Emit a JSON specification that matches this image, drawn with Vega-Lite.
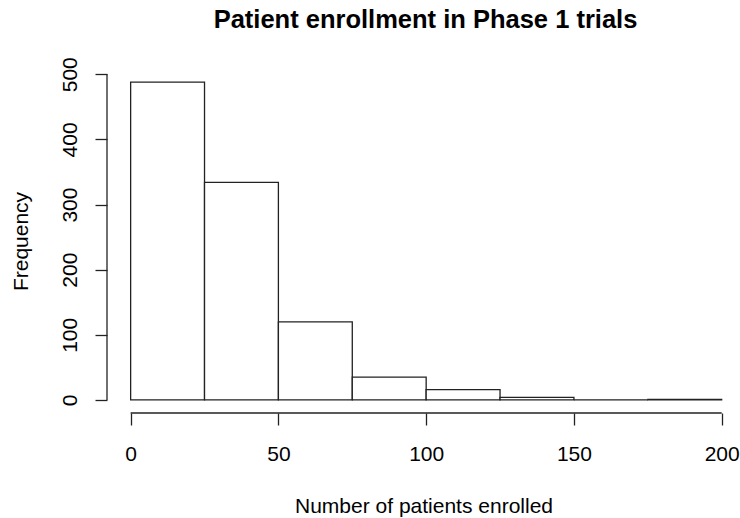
{
  "$schema": "https://vega.github.io/schema/vega-lite/v6.json",
  "width": 633,
  "height": 344,
  "autosize": {"type": "none"},
  "padding": {"left": 107, "top": 69, "right": 0, "bottom": 105},
  "background": "white",
  "config": {"view": {"stroke": null}, "font": "Liberation Sans"},
  "title": {
    "text": "Patient enrollment in Phase 1 trials",
    "fontSize": 25.5,
    "fontWeight": "bold",
    "font": "Liberation Sans",
    "color": "black",
    "anchor": "middle",
    "baseline": "alphabetic",
    "offset": 37,
    "dx": 2,
    "dy": 34
  },
  "layer": [
    {
      "data": {
        "values": [
          {"bin_start": 0, "bin_end": 25, "count": 488},
          {"bin_start": 25, "bin_end": 50, "count": 334},
          {"bin_start": 50, "bin_end": 75, "count": 120},
          {"bin_start": 75, "bin_end": 100, "count": 35},
          {"bin_start": 100, "bin_end": 125, "count": 16},
          {"bin_start": 125, "bin_end": 150, "count": 4},
          {"bin_start": 150, "bin_end": 175, "count": 0},
          {"bin_start": 175, "bin_end": 200, "count": 1}
        ]
      },
      "mark": {"type": "bar", "fill": "white", "stroke": "#222222", "strokeWidth": 1.3},
      "encoding": {
        "x": {
          "field": "bin_start",
          "type": "quantitative",
          "scale": {"domain": [-8, 206.2], "nice": false, "zero": false},
          "axis": {
            "values": [0, 50, 100, 150, 200],
            "domain": false,
            "grid": false,
            "tickSize": 12,
            "tickColor": "#222222",
            "tickWidth": 1.3,
            "labelFontSize": 21,
            "labelFont": "Liberation Sans",
            "labelColor": "black",
            "labelPadding": 35,
            "labelBaseline": "alphabetic",
            "labelFlush": false,
            "labelOverlap": false,
            "title": "Number of patients enrolled",
            "titleFont": "Liberation Sans",
            "titleFontSize": 21,
            "titleFontWeight": "normal",
            "titleColor": "black",
            "titleBaseline": "alphabetic",
            "titleY": 99
          }
        },
        "x2": {"field": "bin_end"},
        "y": {
          "field": "count",
          "type": "quantitative",
          "scale": {"domain": [-20, 508.1], "nice": false, "zero": false},
          "axis": {
            "values": [0, 100, 200, 300, 400, 500],
            "domain": false,
            "grid": false,
            "tickSize": 12,
            "tickColor": "#222222",
            "tickWidth": 1.3,
            "labelFontSize": 21,
            "labelFont": "Liberation Sans",
            "labelColor": "black",
            "labelAngle": 270,
            "labelAlign": "center",
            "labelBaseline": "alphabetic",
            "labelPadding": 19,
            "labelFlush": false,
            "labelOverlap": false,
            "title": "Frequency",
            "titleFont": "Liberation Sans",
            "titleFontSize": 21,
            "titleFontWeight": "normal",
            "titleColor": "black",
            "titleAngle": 270,
            "titleAlign": "center",
            "titleBaseline": "alphabetic",
            "titleX": -80,
            "titleY": 172
          }
        },
        "y2": {"datum": 0}
      }
    },
    {
      "data": {"values": [{}]},
      "mark": {"type": "rule", "color": "#222222", "strokeWidth": 1.3},
      "encoding": {"x": {"datum": 0}, "x2": {"datum": 200}, "y": {"datum": -20}}
    },
    {
      "data": {"values": [{}]},
      "mark": {"type": "rule", "color": "#222222", "strokeWidth": 1.3},
      "encoding": {"x": {"datum": -8}, "y": {"datum": 0}, "y2": {"datum": 500}}
    }
  ]
}
